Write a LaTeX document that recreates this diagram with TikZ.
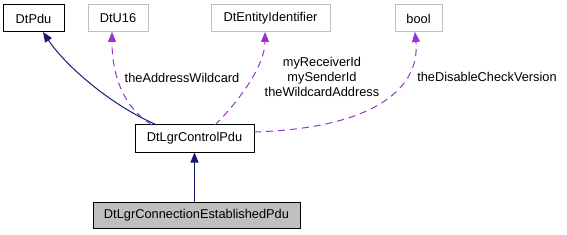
\documentclass[tikz,border=0pt]{standalone}
\usepackage{fontspec}
\setmainfont{Liberation Sans}
\usetikzlibrary{arrows.meta}
\definecolor{edgeblue}{HTML}{191970}
\definecolor{edgepurple}{HTML}{9A32CD}
\definecolor{boxgray}{HTML}{BFBFBF}
\begin{document}
\begin{tikzpicture}[x=1pt,y=-1pt,
  cls/.style={draw=black,line width=1pt,minimum height=27pt,inner sep=0pt,font=\fontsize{12.8}{15}\selectfont,anchor=center},
  ext/.style={cls,draw=boxgray},
  cur/.style={cls,fill=boxgray},
  inh/.style={draw=edgeblue,line width=1pt,-{Triangle[length=10pt,width=8pt]}},
  use/.style={draw=edgepurple,line width=1pt,dash pattern=on 7pt off 5pt,-{Triangle[length=10pt,width=8pt]}},
  lbl/.style={font=\fontsize{12.8}{15}\selectfont,align=center,inner sep=0pt}]
\useasboundingbox (0,0) rectangle (567,235);
\node[cls,minimum width=61pt] (pdu) at (33.5,18.5) {DtPdu};
\node[ext,minimum width=60pt] (u16) at (118,18.5) {DtU16};
\node[ext,minimum width=119pt] (ent) at (270.5,18.5) {DtEntityIdentifier};
\node[ext,minimum width=47pt] (bool) at (418.5,18.5) {bool};
\node[cls,minimum width=119pt] (ctrl) at (194.5,138.5) {DtLgrControlPdu};
\node[cur,minimum width=207pt,minimum height=26pt] (est) at (196.5,215) {DtLgrConnectionEstablishedPdu};
\coordinate (c1) at (157,125);
\coordinate (c2) at (152,125);
\coordinate (c3) at (215,125);
\coordinate (c4) at (254,132);
\coordinate (p1) at (43,32);
\coordinate (p2) at (112,32);
\coordinate (p3) at (265,32);
\coordinate (p4) at (415,32);
\draw[inh] (c1) .. controls (110,105) and (65,65) .. (p1);
\draw[use] (c2) .. controls (120,105) and (112,70) .. (p2);
\draw[use] (c3) .. controls (240,100) and (265,65) .. (p3);
\draw[use] (c4) .. controls (380,128) and (420,85) .. (p4);
\draw[inh] (ctrl.south |- est.north) -- (ctrl.south);
\node[lbl] (l1) at (182,78) {theAddressWildcard};
\node[lbl] (l2) at (322,77) {myReceiverId\\mySenderId\\theWildcardAddress};
\node[lbl] (l3) at (487,77) {theDisableCheckVersion};
\end{tikzpicture}
\end{document}
